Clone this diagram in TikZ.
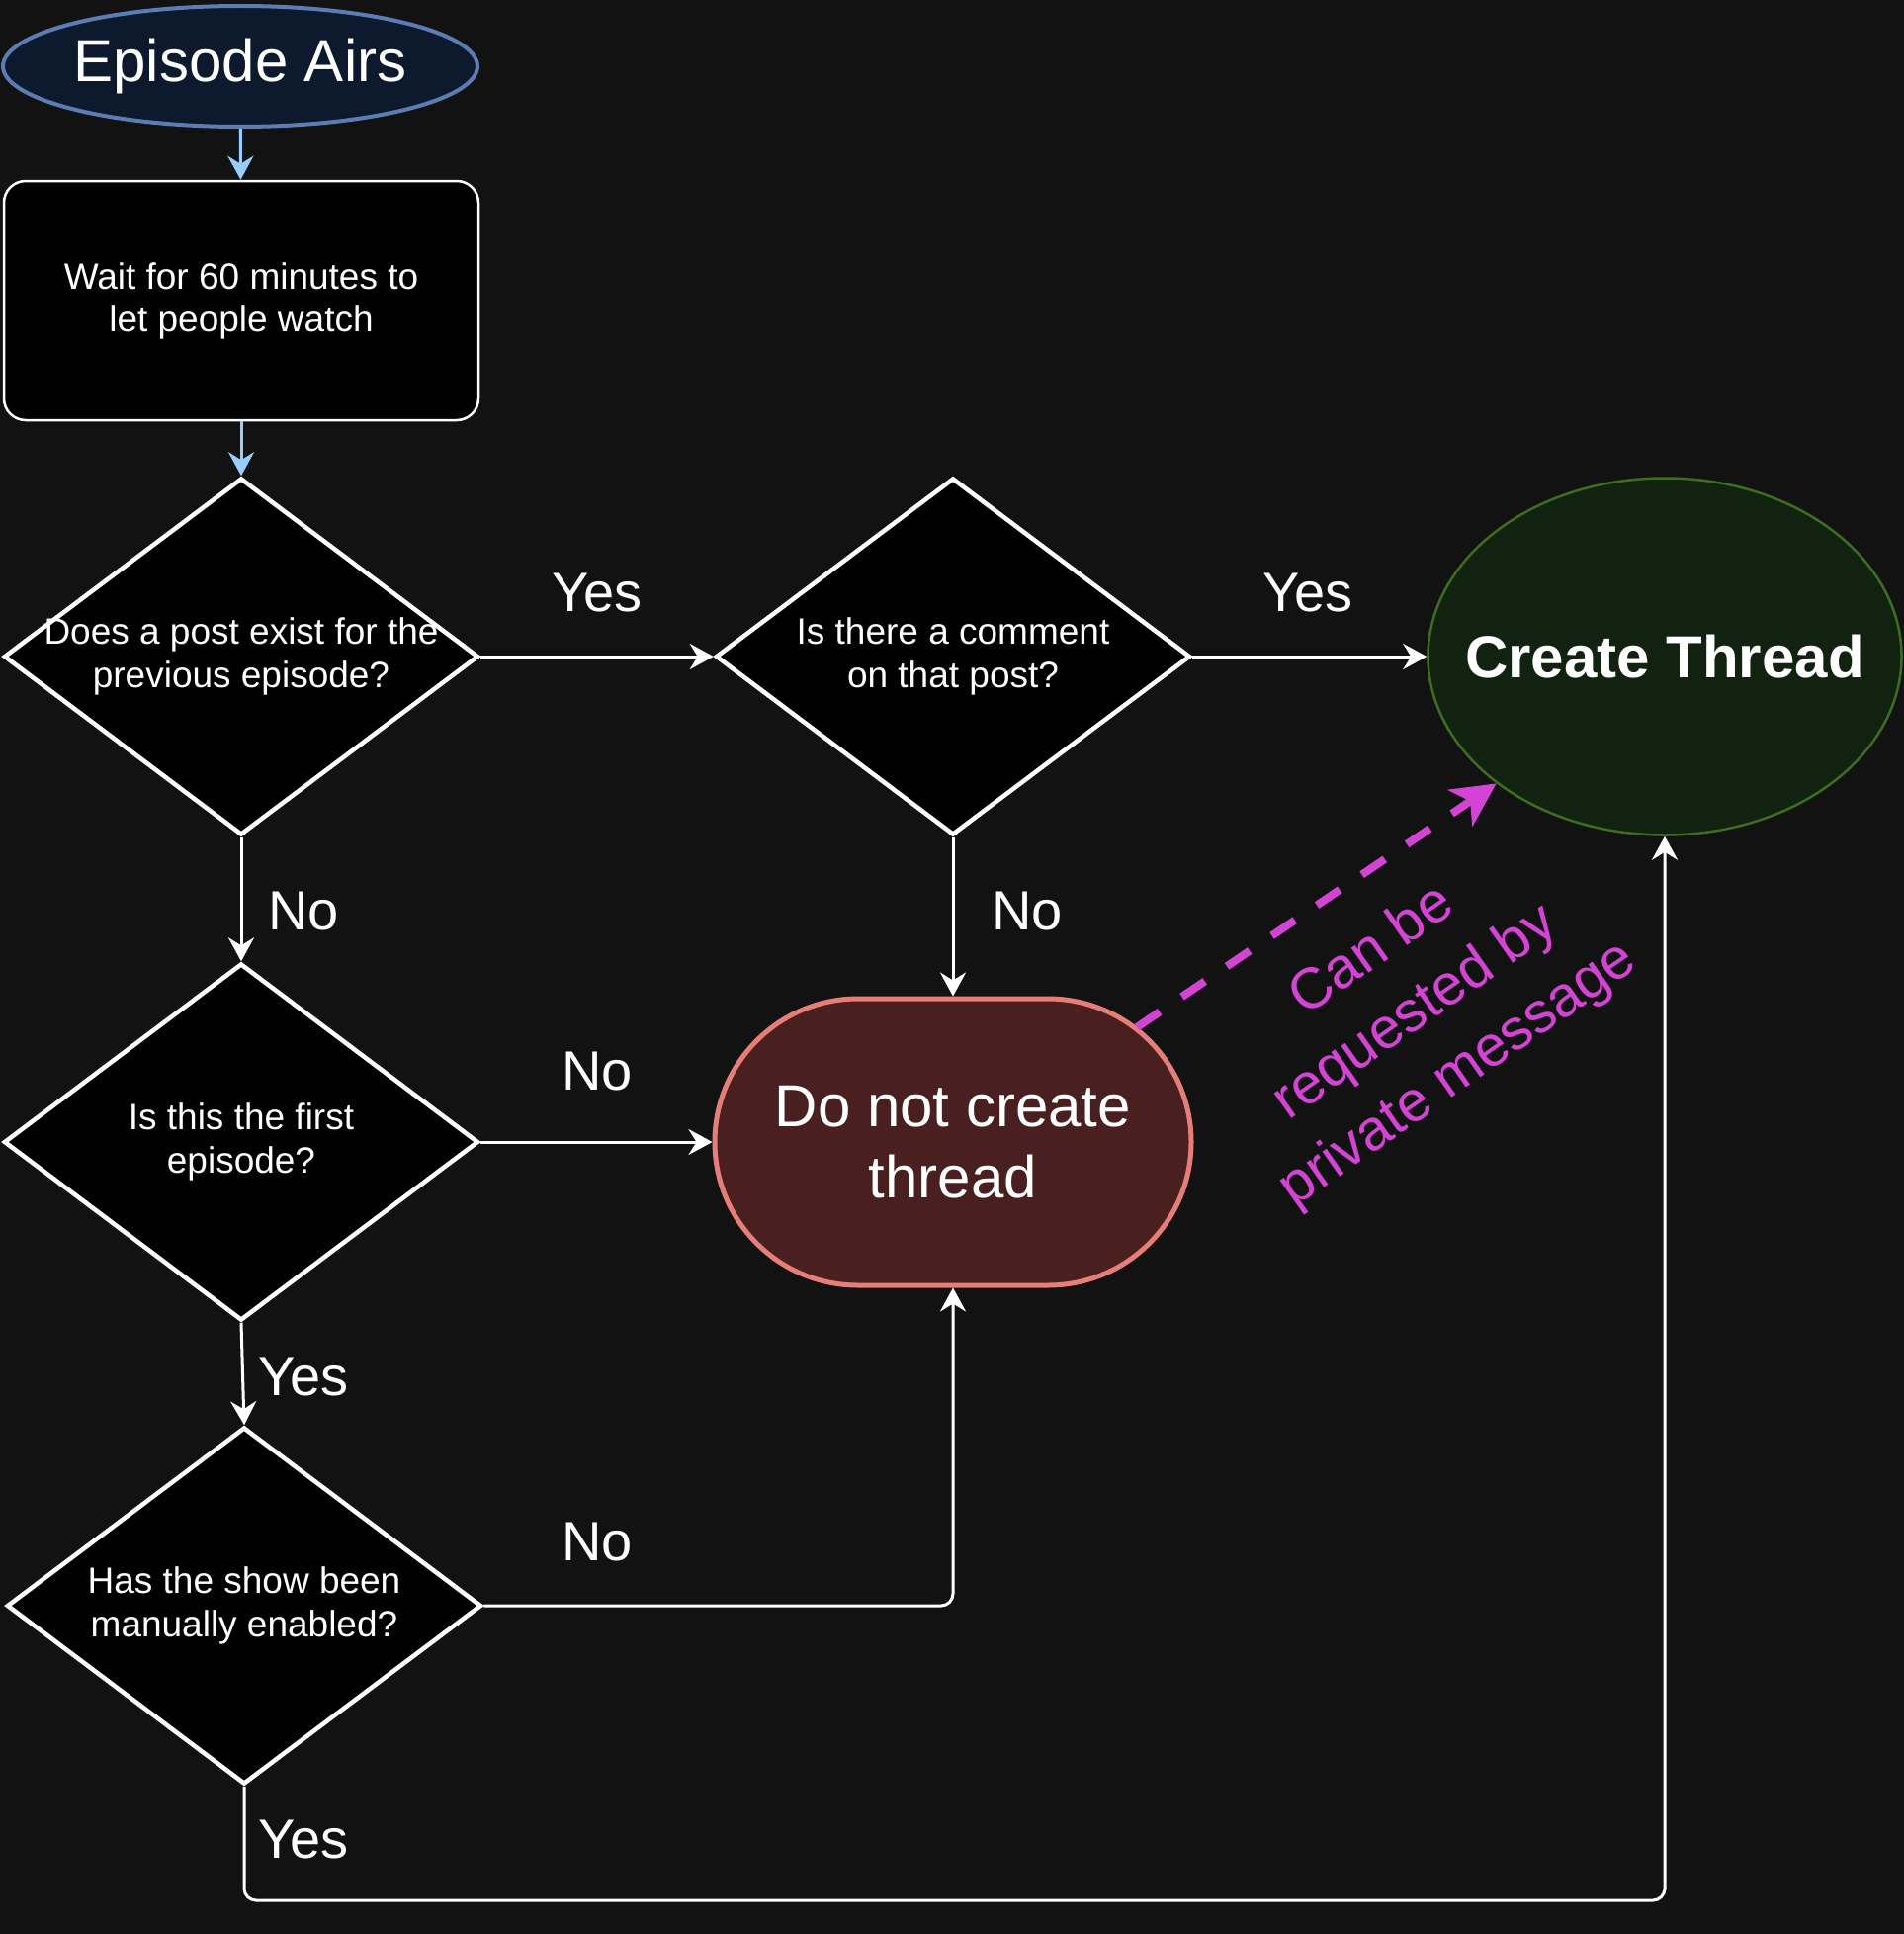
\documentclass[tikz,border=0pt]{standalone}
\usepackage{fontspec}
\setmainfont{Liberation Sans}
\usetikzlibrary{shapes.geometric,arrows.meta}
\definecolor{bgdark}{HTML}{121212}
\definecolor{airfill}{HTML}{0D1A2E}
\definecolor{airline}{HTML}{5B7DB3}
\definecolor{ctfill}{HTML}{112211}
\definecolor{ctline}{HTML}{3D6E20}
\definecolor{dncfill}{HTML}{4A1F1F}
\definecolor{dncline}{HTML}{E57E78}
\definecolor{bluearrow}{HTML}{99CCFF}
\definecolor{pmcolor}{HTML}{D444D4}
\def\fsize#1#2{\fontsize{#1}{#2}\selectfont}
\tikzset{
	question/.style={diamond, draw=white, fill=black, line width=4.5pt, minimum width=480pt, minimum height=361pt, inner sep=-40pt, align=center, text=white, font=\fsize{37}{44}},
	answer/.style={text=white, font=\fsize{56}{66}, inner sep=0pt},
	flow/.style={draw=white, line width=3pt, rounded corners=12pt, -{Stealth[length=24pt,width=26pt,inset=8pt]}},
	startflow/.style={draw=bluearrow, line width=3pt, -{Stealth[length=24pt,width=26pt,inset=8pt]}},
	reqline/.style={draw=pmcolor, line width=8pt, dash pattern=on 28pt off 27pt, -{Stealth[length=44pt,width=44pt,inset=12pt]}}
}

\begin{document}
\begin{tikzpicture}[x=1pt,y=-1pt]
				\path[use as bounding box, fill=bgdark] (0,0) rectangle (1926,1956);
				
				\node[ellipse, draw=airline, fill=airfill, line width=4pt, minimum width=480pt, minimum height=122pt, inner sep=0pt, text=white, font=\fsize{60}{72}] (air) at (243,67) {Episode Airs};
				\node[rectangle, rounded corners=22pt, draw=white, fill=black, line width=2.5pt, minimum width=480pt, minimum height=242pt, align=center, text=white, font=\fsize{37}{43}] (wait) at (244,304) {Wait for 60 minutes to\\let people watch};
				
				\node[question] (prevpost) at (244,664) {Does a post exist for the\\previous episode?};
				\node[question] (comment) at (964,664) {Is there a comment\\on that post?};
				\node[question] (firstep) at (244,1155) {Is this the first\\episode?};
				\node[question] (manual) at (247,1624) {Has the show been\\manually enabled?};
				
				\node[ellipse, draw=ctline, fill=ctfill, line width=2.5pt, minimum width=479pt, minimum height=361pt, inner sep=-45pt, text=white, font=\fsize{60}{72}\bfseries] (create) at (1684,664) {Create Thread};
				\node[rectangle, rounded corners=145pt, draw=dncline, fill=dncfill, line width=5pt, minimum width=482pt, minimum height=290pt, align=center, text=white, font=\fsize{60}{72}] (nocreate) at (964,1155) {Do not create\\thread};
				
				\draw[startflow] (air) -- (wait);
				\draw[startflow] (wait) -- (prevpost);
				
				\draw[flow] (prevpost.east) -- (comment.west);
				\draw[flow] (comment.east) -- (create.west);
				\draw[flow] (prevpost.south) -- (firstep.north);
				\draw[flow] (comment.south) -- (nocreate.north);
				\draw[flow] (firstep.east) -- (nocreate.west);
				\draw[flow] (firstep.south) -- (manual.north);
				\draw[flow] (manual.east) -| (nocreate.south);
				
				\coordinate (bottomturn) at (1684,1922);
				\draw[flow] (manual.south) |- (bottomturn) -- (create.south);
				
				\node[answer] (yes1) at (604,600) {Yes};
				\node[answer] (yes2) at (1323,600) {Yes};
				\node[answer] (no1) at (307,921) {No};
				\node[answer] (no2) at (1039,921) {No};
				\node[answer] (no3) at (604,1083) {No};
				\node[answer] (yes3) at (307,1392) {Yes};
				\node[answer] (no4) at (604,1559) {No};
				\node[answer] (yes4) at (307,1860) {Yes};
				
				\draw[reqline] ([shift={(186,-116)}]nocreate.center) -- (create.217);
				\node[rotate=35, align=center, text=pmcolor, font=\fsize{58}{76}] (pmnote) at (1432,1025) {Can be\\requested by\\private message};
			\end{tikzpicture}
\end{document}
